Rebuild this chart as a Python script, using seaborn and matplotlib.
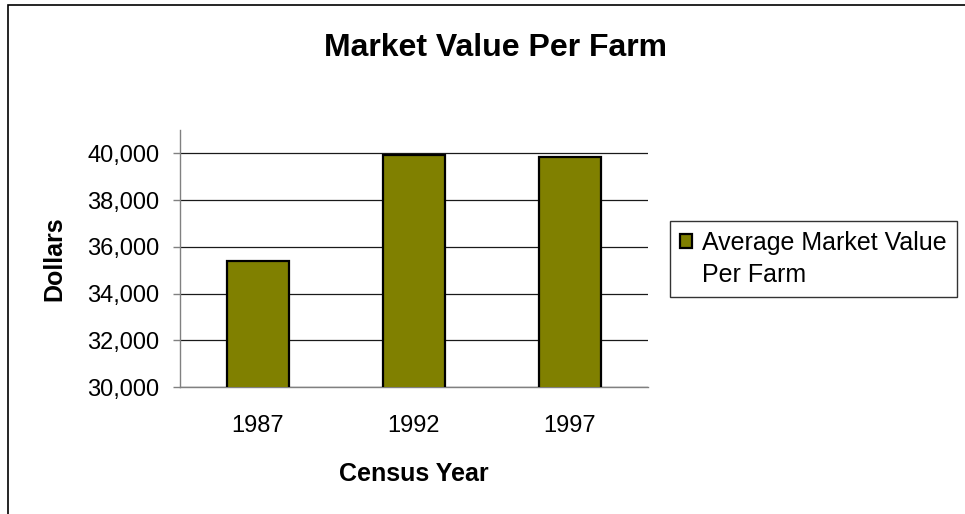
import pandas as pd
import matplotlib.pyplot as plt
import seaborn as sns
from matplotlib.patches import Rectangle, Patch

# values
years = ["1987", "1992", "1997"]
market_value = [35385, 39927, 39829]
series_name = "Average Market Value"

df = pd.DataFrame({"year": years, "value": market_value, "series": series_name})

sns.set_style("white")
plt.rcParams["font.family"] = ["Liberation Sans", "DejaVu Sans"]
plt.rcParams["text.color"] = "black"
plt.rcParams["xtick.color"] = "black"
plt.rcParams["ytick.color"] = "black"
plt.rcParams["axes.labelcolor"] = "black"

fig = plt.figure(figsize=(9.65, 5.14), dpi=100)
ax = fig.add_axes([0.1865, 0.247, 0.485, 0.5])

sns.barplot(
    data=df,
    x="year",
    y="value",
    hue="series",
    palette=["#808000"],
    saturation=1,
    width=0.4,
    edgecolor="black",
    linewidth=1.6,
    ax=ax,
    zorder=3
)

ax.set_ylim(30000, 41000)
ax.set_yticks(range(30000, 40001, 2000))
ax.set_yticklabels([f"{v:,}" for v in range(30000, 40001, 2000)], fontsize=17)
ax.yaxis.grid(True, color="#1a1a1a", linewidth=0.9)
ax.set_axisbelow(True)

ax.set_xlim(-0.5, 2.5)
ax.set_xticks([0, 1, 2])
ax.set_xticklabels(years, fontsize=17)
ax.set_xticks([-0.5, 0.5, 1.5, 2.5], minor=True)
ax.tick_params(axis="x", which="major", length=0, pad=20)
ax.tick_params(axis="x", which="minor", length=6, color="#808080", width=1, direction="out")
ax.tick_params(axis="y", length=5, color="#808080", width=1, direction="out", left=True, pad=10)

for s in ["top", "right"]:
    ax.spines[s].set_visible(False)
for s in ["left", "bottom"]:
    ax.spines[s].set_color("#808080")
    ax.spines[s].set_linewidth(1)

ax.set_xlabel("Census Year", fontsize=18, fontweight="bold", labelpad=18)
ax.set_ylabel("Dollars", fontsize=18, fontweight="bold", labelpad=15)

fig.suptitle("Market Value Per Farm", x=0.513, y=0.906, va="center",
             fontsize=23, fontweight="bold")

# legend: second row of the label has no swatch, like the original wrapped text
bar_handle = ax.get_legend_handles_labels()[0][0]
leg = ax.legend(
    handles=[bar_handle, Patch(visible=False)],
    labels=[series_name, "Per Farm"],
    loc="upper left",
    bbox_to_anchor=(0.6943, 0.570),
    bbox_transform=fig.transFigure,
    fontsize=18,
    frameon=True,
    fancybox=False,
    edgecolor="black",
    handlelength=0.5,
    handleheight=0.5,
    handletextpad=0.4,
    borderpad=0.4,
    borderaxespad=0,
    labelspacing=0.3,
)
leg.get_frame().set_linewidth(1)

# outer chart border
fig.patches.append(Rectangle((0.008, -0.1), 1.2, 1.09, transform=fig.transFigure,
                             fill=False, edgecolor="black", linewidth=1.2))

plt.savefig("out.png", dpi=100)
plt.close()
